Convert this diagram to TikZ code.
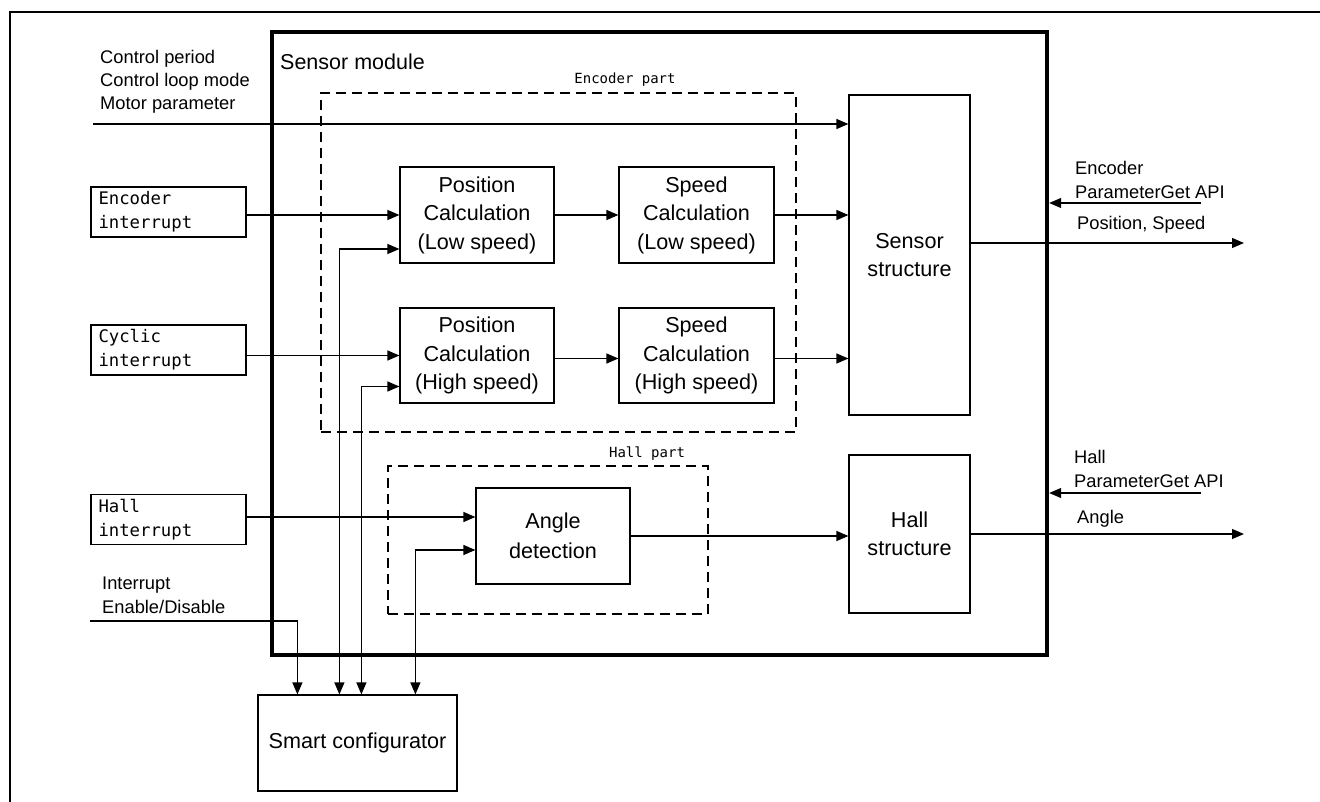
\documentclass[tikz,border=0pt]{standalone}
\usepackage{fontspec}
\setmainfont{Liberation Sans}
\newfontfamily\monof{DejaVu Sans Mono}
\usetikzlibrary{arrows.meta}
\begin{document}
\begin{tikzpicture}[x=1pt,y=-1pt,
  box/.style={draw, line width=1.2pt, rectangle, inner sep=0pt, align=center,
    font=\fontsize{21.6}{28.5}\selectfont},
  arr/.style={line width=1.2pt, -{Triangle[length=12pt,width=10pt]}},
  biarr/.style={line width=1.2pt, {Triangle[length=12pt,width=10pt]}-{Triangle[length=12pt,width=10pt]}},
  intbox/.style={draw, line width=1.2pt, minimum width=155pt, minimum height=50pt,
    text width=140pt, align=left, inner xsep=7.5pt, inner ysep=0pt,
    font=\monof\fontsize{17.3}{24}\selectfont},
  side/.style={anchor=base west, inner sep=0pt, font=\fontsize{18.3}{23}\selectfont},
  partbox/.style={draw, dash pattern=on 10pt off 6pt, line width=1.1pt, inner sep=0pt},
  partlabel/.style={anchor=base, inner sep=0pt, font=\monof\fontsize{14}{16}\selectfont}
]
\useasboundingbox (0,0) rectangle (1320,802);

% outer frame
\draw[line width=2.3pt] (10,802) -- (10,12) -- (1320,12);

% sensor module
\node[draw, line width=4.4pt, minimum width=775pt, minimum height=623pt, inner sep=0pt] (sm) at (659.5,343.5) {};
\node[anchor=base west, inner sep=0pt, font=\fontsize{21.5}{26}\selectfont] (smlabel) at (280,70) {Sensor module};

% dashed parts
\node[partbox, minimum width=475pt, minimum height=339pt] (encpart) at (558.5,262.5) {};
\node[partlabel] (enclabel) at (625,84) {Encoder part};
\node[partbox, minimum width=320pt, minimum height=148pt] (hallpart) at (548,540) {};
\node[partlabel] (halllabel) at (647,457) {Hall part};

% blocks
\node[box, minimum width=154pt, minimum height=96pt] (poslow) at (477,215) {Position\\Calculation\\(Low speed)};
\node[box, minimum width=155pt, minimum height=96pt] (speedlow) at (696.5,215) {Speed\\Calculation\\(Low speed)};
\node[box, minimum width=154pt, minimum height=95pt] (poshigh) at (477,355.5) {Position\\Calculation\\(High speed)};
\node[box, minimum width=155pt, minimum height=95pt] (speedhigh) at (696.5,355.5) {Speed\\Calculation\\(High speed)};
\node[box, minimum width=121pt, minimum height=320pt] (sensst) at (909.5,255) {Sensor\\structure};
\node[box, minimum width=121pt, minimum height=158pt] (hallst) at (909.5,534) {Hall\\structure};
\node[box, minimum width=154pt, minimum height=96pt, font=\fontsize{21.6}{30}\selectfont] (angle) at (553,536) {Angle\\detection};
\node[box, minimum width=199pt, minimum height=96pt] (smart) at (357.5,743) {Smart configurator};

% interrupt boxes
\node[intbox] (enc) at (168.5,212) {Encoder\\interrupt};
\node[intbox] (cyc) at (168.5,350) {Cyclic\\interrupt};
\node[intbox] (hallint) at (168.5,519.5) {Hall\\interrupt};

% side texts
\node[side] (ctrl1) at (100,64) {Control period};
\node[side] (ctrl2) at (100,87) {Control loop mode};
\node[side] (ctrl3) at (100,110) {Motor parameter};
\node[side] (encapi1) at (1075,175) {Encoder};
\node[side] (encapi2) at (1075,199) {ParameterGet API};
\node[side] (encout) at (1077,230) {Position, Speed};
\node[side] (hallapi1) at (1074,463) {Hall};
\node[side] (hallapi2) at (1074,487) {ParameterGet API};
\node[side] (hallout) at (1077,523) {Angle};
\node[side] (int1) at (102,589) {Interrupt};
\node[side] (int2) at (102,613) {Enable/Disable};

% coordinates
\coordinate (ctrlin) at (93,124);
\coordinate (posout) at (1244,243);
\coordinate (angout) at (1244,534);
\coordinate (encapi) at (1201,203);
\coordinate (hallapi) at (1201,493);
\coordinate (intin) at (90,621);
\coordinate (pl2) at ([yshift=-34pt]poslow.west);
\coordinate (ph2) at ([yshift=-31pt]poshigh.west);
\coordinate (an1) at ([yshift=19pt]angle.west);
\coordinate (an2) at ([yshift=-14pt]angle.west);
\coordinate (phout) at ([yshift=-3pt]poshigh.east);
\coordinate (shout) at ([yshift=-3pt]speedhigh.east);

% connectors
\draw[arr] (ctrlin) -- (ctrlin -| sensst.west);
\draw[arr] (enc.east |- poslow.west) -- (poslow.west);
\draw[arr] (poslow.east) -- (speedlow.west);
\draw[arr] (speedlow.east) -- (speedlow.east -| sensst.west);
\draw[arr] (cyc.east |- poshigh.west) -- (poshigh.west);
\draw[arr] (phout) -- (phout -| speedhigh.west);
\draw[arr] (shout) -- (shout -| sensst.west);
\draw[arr] (hallint.east |- an1) -- (an1);
\draw[arr] (angle.east) -- (angle.east -| hallst.west);
\draw[arr] (sensst.east |- posout) -- (posout);
\draw[arr] (hallst.east |- angout) -- (angout);
\draw[arr] (encapi) -- (encapi -| sm.east);
\draw[arr] (hallapi) -- (hallapi -| sm.east);
\draw[arr] (intin) -| ([xshift=40pt]smart.north west);
\draw[biarr] ([xshift=82pt]smart.north west) |- (pl2);
\draw[biarr] ([xshift=104pt]smart.north west) |- (ph2);
\draw[biarr] ([xshift=158pt]smart.north west) |- (an2);
\end{tikzpicture}
\end{document}
